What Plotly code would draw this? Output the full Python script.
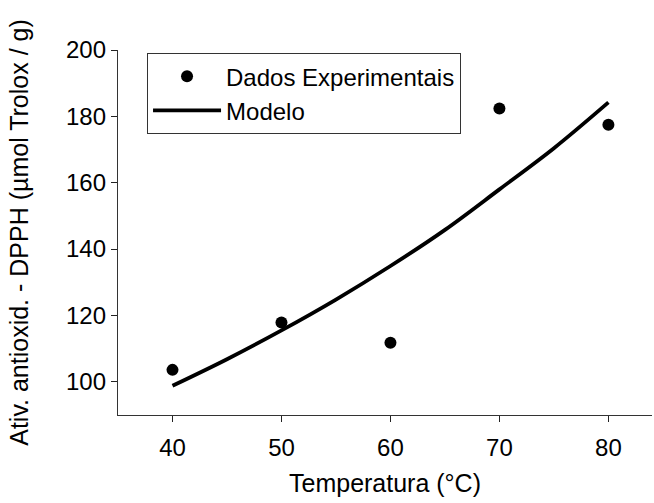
import plotly.graph_objects as go

# Experimental points
temperatura = [40, 50, 60, 70, 80]
atividade = [103.6, 117.9, 111.8, 182.4, 177.5]

# Fitted model curve
temperatura_modelo = [40, 45, 50, 55, 60, 65, 70, 75, 80]
atividade_modelo = [98.8, 106.8, 115.5, 124.8, 134.9, 145.8, 158.0, 170.4, 184.2]

x_ticks = [40, 50, 60, 70, 80]
y_ticks = [100, 120, 140, 160, 180, 200]

FONT = "Liberation Sans, Arial, sans-serif"

fig = go.Figure()
fig.add_trace(go.Scatter(
    x=temperatura, y=atividade, mode="markers",
    name="Dados Experimentais", legendgroup="a",
    marker=dict(color="black", size=12),
))
fig.add_trace(go.Scatter(
    x=temperatura_modelo, y=atividade_modelo, mode="lines",
    name="Modelo", legendgroup="b",
    line=dict(color="black", width=3.8, shape="spline"),
))

axis_common = dict(
    showline=True, linecolor="#333333", linewidth=1.3,
    ticks="outside", ticklen=6, tickwidth=1.2, tickcolor="#222222",
    showgrid=False, zeroline=False,
    tickfont=dict(family=FONT, size=24, color="black"),
)

fig.update_xaxes(
    range=[35, 84], tickvals=x_ticks, ticklabelstandoff=5,
    title=dict(text="Temperatura (°C)", font=dict(family=FONT, size=25, color="black"), standoff=14),
    **axis_common,
)
fig.update_yaxes(
    range=[90, 200], tickvals=y_ticks,
    title=dict(text="Ativ. antioxid. - DPPH (µmol Trolox / g)",
               font=dict(family=FONT, size=25, color="black"), standoff=30),
    **axis_common,
)

fig.update_layout(
    width=654, height=503,
    margin=dict(l=118, r=2, t=50, b=88),
    plot_bgcolor="white", paper_bgcolor="white",
    font=dict(family=FONT, color="black"),
    legend=dict(
        x=0.054, y=0.992, xanchor="left", yanchor="top",
        bordercolor="#333333", borderwidth=1.2, bgcolor="white",
        font=dict(family=FONT, size=24, color="black"),
        traceorder="grouped", tracegroupgap=0, itemwidth=68,
    ),
)

fig.write_html("out.html")
